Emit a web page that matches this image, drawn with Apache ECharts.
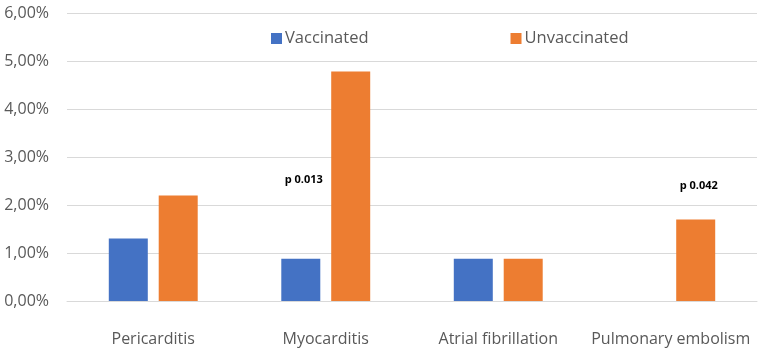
<!DOCTYPE html>
<html>
<head>
<meta charset="utf-8">
<script src="https://cdn.jsdelivr.net/npm/echarts@6/dist/echarts.min.js"></script>
<style>
  html, body { margin: 0; padding: 0; background: #fff; }
  #chart { width: 762px; height: 355px; }
</style>
</head>
<body>
<div id="chart"></div>
<script>
const categories = ['Pericarditis', 'Myocarditis', 'Atrial fibrillation', 'Pulmonary embolism']
const vaccinated = [1.3, 0.88, 0.88, 0]
const unvaccinated = [2.2, 4.78, 0.88, 1.7]
// p-value notes: which series they sit over, and at what height (%)
const pVaccinated = [{ cat: 'Myocarditis', y: 2.52, text: 'p 0.013' }]
const pUnvaccinated = [{ cat: 'Pulmonary embolism', y: 2.4, text: 'p 0.042' }]

const font = '"Open Sans", "DejaVu Sans Condensed", sans-serif'

function pMark(list) {
  return {
    symbol: 'circle',
    symbolSize: 0,
    label: {
      show: true,
      color: '#000',
      fontWeight: 'bold',
      fontSize: 11,
      fontFamily: font,
      offset: [3, 0],
      formatter: p => p.name
    },
    data: list.map(p => ({ name: p.text, coord: [p.cat, p.y] }))
  }
}

const chart = echarts.init(document.getElementById('chart'), null, { renderer: 'canvas' })
chart.setOption({
  animation: false,
  color: ['#4472c4', '#ed7d31'],
  legend: {
    top: 25,
    left: 266,
    itemGap: 142,
    itemWidth: 11,
    itemHeight: 11,
    icon: 'rect',
    textStyle: { color: '#595959', fontSize: 16.5, fontFamily: font, padding: [0, 0, 0, -2] },
    data: ['Vaccinated', 'Unvaccinated']
  },
  grid: { left: 67, right: 5, top: 13, bottom: 54 },
  xAxis: {
    type: 'category',
    data: categories,
    axisTick: { show: false },
    axisLine: { lineStyle: { color: '#d9d9d9' } },
    axisLabel: { color: '#595959', fontSize: 16, fontFamily: font, margin: 30, interval: 0 }
  },
  yAxis: {
    type: 'value',
    min: 0,
    max: 6,
    interval: 1,
    axisLabel: {
      color: '#595959',
      fontSize: 16,
      fontFamily: font,
      margin: 18,
      formatter: v => v.toFixed(2).replace('.', ',') + '%'
    },
    splitLine: { lineStyle: { color: '#d9d9d9' } }
  },
  series: [
    {
      name: 'Vaccinated',
      type: 'bar',
      barWidth: 39,
      barGap: '28%',
      data: vaccinated,
      markPoint: pMark(pVaccinated)
    },
    {
      name: 'Unvaccinated',
      type: 'bar',
      barWidth: 39,
      data: unvaccinated,
      markPoint: pMark(pUnvaccinated)
    }
  ]
})
</script>
</body>
</html>
